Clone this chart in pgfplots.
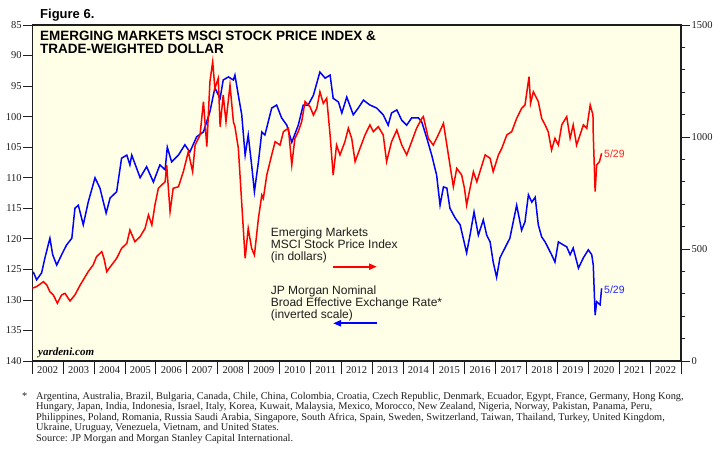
\documentclass[border=0pt]{standalone}
\usepackage{fontspec}
\setmainfont{Liberation Serif}
\newfontfamily\arial{Liberation Sans}
\usepackage{pgfplots}
\pgfplotsset{compat=1.18}
\usetikzlibrary{arrows.meta}
\definecolor{bg}{RGB}{255,254,230}
\definecolor{ax}{RGB}{30,30,30}
\definecolor{lblue}{RGB}{0,0,255}
\definecolor{lred}{RGB}{255,0,0}

\begin{document}
\begin{tikzpicture}
\useasboundingbox (0,0) rectangle (722pt,449pt);
\pgfplotsset{every axis/.append style={scale only axis, width=648.7pt, height=336pt,
  at={(32.3pt,88pt)}, anchor=south west, xmin=2002, xmax=2023,
  /pgf/number format/assume math mode=true, /pgf/number format/1000 sep={},
  tick label style={font=\fontsize{10.5}{12}\selectfont, text=ax},
  tick style={ax, line width=0.8pt},
  axis line style={ax, line width=1.5pt, -}}}

\begin{axis}[
  axis background/.style={fill=bg},
  ymin=85, ymax=140, y dir=reverse,
  ytick={85,90,...,140}, ytick pos=left,
  xtick=\empty,
  tick align=outside, major tick length=9pt,
  yticklabel style={inner sep=1.5pt},
]
\addplot[lblue, line width=1.5pt] table {
2002.03 125.4
2002.14 126.7
2002.30 125.6
2002.41 123.1
2002.57 119.9
2002.66 122.6
2002.79 124.3
2002.95 122.6
2003.11 121.0
2003.28 119.9
2003.38 115.0
2003.49 114.5
2003.65 117.7
2003.81 114.0
2004.03 110.0
2004.19 111.7
2004.39 115.8
2004.52 113.3
2004.73 112.3
2004.89 106.8
2005.06 106.3
2005.16 107.9
2005.22 106.3
2005.49 110.0
2005.70 108.2
2005.92 110.7
2006.13 107.9
2006.30 108.7
2006.37 105.0
2006.51 107.4
2006.73 106.3
2006.94 104.6
2007.10 105.8
2007.32 103.3
2007.54 102.5
2007.75 99.2
2007.91 95.3
2008.08 97.0
2008.18 94.0
2008.35 93.5
2008.51 94.0
2008.56 93.2
2008.67 96.5
2008.78 99.7
2008.89 106.3
2008.99 103.0
2009.10 107.9
2009.19 112.3
2009.32 107.4
2009.43 102.5
2009.53 103.0
2009.75 98.6
2009.91 98.1
2010.07 100.2
2010.24 101.4
2010.40 104.2
2010.61 101.4
2010.77 98.1
2010.93 98.1
2011.10 96.5
2011.31 92.7
2011.48 93.7
2011.64 93.2
2011.74 97.0
2011.91 97.6
2012.02 99.4
2012.18 96.8
2012.39 99.7
2012.55 98.6
2012.72 97.3
2012.93 98.1
2013.15 98.6
2013.36 99.7
2013.52 101.4
2013.63 99.4
2013.80 98.9
2013.96 100.6
2014.12 101.4
2014.28 100.2
2014.50 100.2
2014.61 100.9
2014.77 103.5
2014.93 106.3
2015.09 109.6
2015.20 114.5
2015.31 111.5
2015.42 111.7
2015.52 115.0
2015.69 116.6
2015.85 117.7
2015.95 119.9
2016.06 122.3
2016.17 119.4
2016.30 115.6
2016.44 119.4
2016.60 116.9
2016.71 119.4
2016.82 120.5
2016.92 123.8
2017.03 126.3
2017.14 123.1
2017.30 121.5
2017.46 119.9
2017.57 117.2
2017.68 114.5
2017.84 118.6
2017.95 117.2
2018.06 112.8
2018.17 114.0
2018.28 113.2
2018.38 117.7
2018.49 119.7
2018.60 120.5
2018.70 121.5
2018.81 122.6
2018.92 123.8
2019.03 120.5
2019.19 121.0
2019.30 121.3
2019.41 122.6
2019.51 121.5
2019.68 124.8
2019.84 123.1
2020.00 121.8
2020.11 122.6
2020.16 124.3
2020.22 132.5
2020.27 130.3
2020.38 130.8
2020.43 128.1
};
\end{axis}

\begin{axis}[
  ymin=0, ymax=1500, axis y line*=right, axis x line=none,
  ytick={0,500,1000,1500}, minor ytick={100,200,...,1400},
  tick align=outside, major tick length=9pt, minor tick length=4.5pt,
  yticklabel style={inner sep=1.5pt},
]
\addplot[lred, line width=1.5pt] table {
2002.00 325
2002.14 332
2002.36 354
2002.47 339
2002.57 309
2002.68 295
2002.81 258
2002.95 295
2003.06 302
2003.22 268
2003.38 295
2003.55 339
2003.71 376
2003.81 399
2003.97 429
2004.08 466
2004.25 488
2004.32 458
2004.41 399
2004.57 429
2004.73 458
2004.89 503
2005.06 525
2005.16 585
2005.32 533
2005.49 555
2005.65 592
2005.76 652
2005.87 607
2005.97 696
2006.08 771
2006.19 786
2006.30 800
2006.35 875
2006.46 667
2006.56 771
2006.73 778
2006.89 845
2007.05 934
2007.19 845
2007.27 964
2007.43 1009
2007.54 1158
2007.65 957
2007.75 1247
2007.84 1336
2007.91 1217
2008.02 1262
2008.08 1046
2008.18 1188
2008.27 1068
2008.40 1232
2008.51 1068
2008.56 1046
2008.67 950
2008.75 771
2008.83 592
2008.89 458
2008.99 592
2009.10 503
2009.19 473
2009.32 637
2009.43 741
2009.48 726
2009.59 830
2009.75 920
2009.86 979
2010.02 964
2010.13 1024
2010.29 1039
2010.40 875
2010.50 994
2010.61 1024
2010.72 1068
2010.83 1158
2010.99 1135
2011.10 1098
2011.21 1128
2011.31 1202
2011.42 1150
2011.53 1173
2011.64 1009
2011.74 830
2011.85 964
2011.96 920
2012.12 979
2012.23 1039
2012.34 994
2012.45 890
2012.61 950
2012.77 1009
2012.93 1054
2013.04 1024
2013.20 1046
2013.36 1009
2013.47 890
2013.63 979
2013.80 1031
2013.96 964
2014.12 920
2014.28 979
2014.44 1039
2014.61 1083
2014.66 1091
2014.82 994
2014.98 964
2015.14 1009
2015.31 1061
2015.47 920
2015.63 778
2015.74 860
2015.90 830
2015.99 771
2016.06 696
2016.17 771
2016.28 845
2016.39 800
2016.49 845
2016.66 920
2016.82 905
2016.92 845
2017.09 920
2017.20 950
2017.36 1009
2017.52 1024
2017.68 1083
2017.84 1128
2017.95 1143
2018.08 1269
2018.13 1150
2018.22 1202
2018.38 1158
2018.49 1083
2018.60 1054
2018.70 1024
2018.81 942
2018.92 994
2019.03 964
2019.14 1054
2019.30 1091
2019.41 994
2019.51 1054
2019.62 964
2019.73 1009
2019.84 1054
2019.95 1039
2020.06 1143
2020.15 1098
2020.16 1009
2020.22 756
2020.27 875
2020.36 890
2020.43 927
};
\end{axis}

\begin{axis}[
  ymin=0, ymax=1, hide y axis, axis x line*=bottom,
  xtick={2002,2003,...,2023}, x tick label as interval,
  tick align=outside, major tick length=13pt,
  xticklabel style={yshift=11.5pt},
]
\end{axis}

% titles and annotations
\node[anchor=base west, inner sep=0, font=\arial\bfseries\fontsize{13}{13}\selectfont] at (40pt,430.7pt) {Figure 6.};
\node[anchor=base west, inner sep=0, font=\arial\bfseries\fontsize{13.5}{13}\selectfont] at (40pt,408.5pt) {EMERGING MARKETS MSCI STOCK PRICE INDEX \&};
\node[anchor=base west, inner sep=0, font=\arial\bfseries\fontsize{13.5}{13}\selectfont] at (40pt,395.5pt) {TRADE-WEIGHTED DOLLAR};
\node[anchor=base west, inner sep=0, font=\bfseries\itshape\fontsize{11}{12}\selectfont] at (38pt,93pt) {yardeni.com};

\begin{scope}[every node/.style={anchor=base west, inner sep=0, font=\arial\fontsize{12}{12}\selectfont, text=ax}]
\node at (270.7pt,212.4pt) {Emerging Markets};
\node at (270.7pt,200.4pt) {MSCI Stock Price Index};
\node at (270.7pt,188.4pt) {(in dollars)};
\node at (270.7pt,154.7pt) {JP Morgan Nominal};
\node at (270.7pt,142.7pt) {Broad Effective Exchange Rate*};
\node at (270.7pt,130.7pt) {(inverted scale)};
\end{scope}
\draw[lred, line width=2.2pt, -{Triangle[length=8pt,width=6pt]}] (332.7pt,182.3pt) -- (377pt,182.3pt);
\draw[lblue, line width=2.2pt, -{Triangle[length=8pt,width=6pt]}] (377pt,125.7pt) -- (333pt,125.7pt);

\node[anchor=west, inner sep=0, font=\arial\fontsize{10.5}{12}\selectfont, text=lred!85] at (604pt,295.7pt) {5/29};
\node[anchor=west, inner sep=0, font=\arial\fontsize{10.5}{12}\selectfont, text=lblue!85] at (604pt,159.7pt) {5/29};

\begin{scope}[every node/.style={anchor=base west, inner sep=0, font=\fontsize{10.35}{11}\selectfont, text=ax}]
\node at (22pt,49.5pt) {*};
\node at (36pt,49.5pt) {Argentina, Australia, Brazil, Bulgaria, Canada, Chile, China, Colombia, Croatia, Czech Republic, Denmark, Ecuador, Egypt, France, Germany, Hong Kong,};
\node at (36pt,39pt) {Hungary, Japan, India, Indonesia, Israel, Italy, Korea, Kuwait, Malaysia, Mexico, Morocco, New Zealand, Nigeria, Norway, Pakistan, Panama, Peru,};
\node at (36pt,28.5pt) {Philippines, Poland, Romania, Russia Saudi Arabia, Singapore, South Africa, Spain, Sweden, Switzerland, Taiwan, Thailand, Turkey, United Kingdom,};
\node at (36pt,18pt) {Ukraine, Uruguay, Venezuela, Vietnam, and United States.};
\node at (36pt,7.5pt) {Source: JP Morgan and Morgan Stanley Capital International.};
\end{scope}
\end{tikzpicture}
\end{document}
